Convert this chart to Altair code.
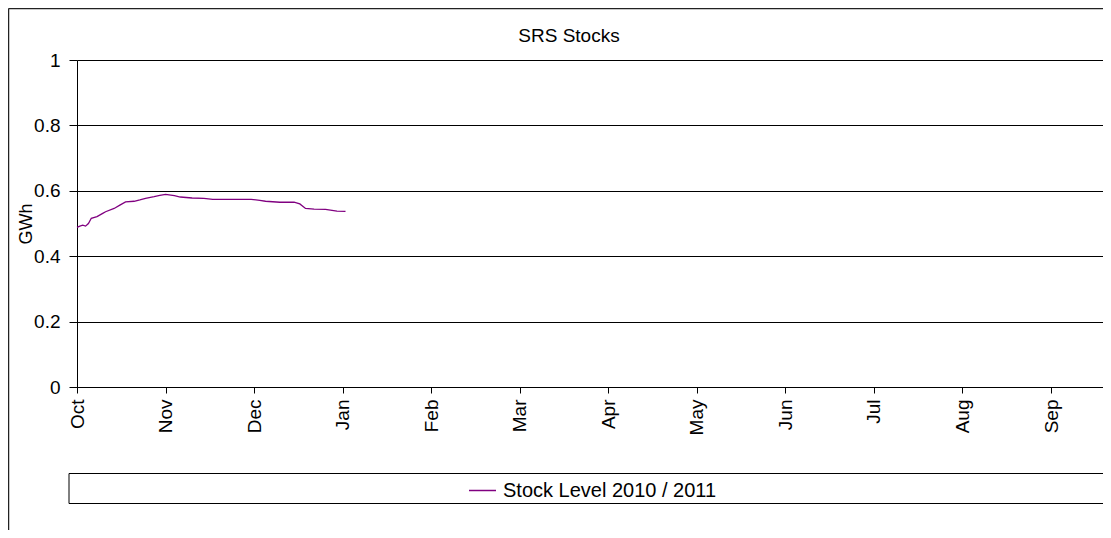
import altair as alt
import pandas as pd

# ---- data ----
months = ["Oct", "Nov", "Dec", "Jan", "Feb", "Mar", "Apr", "May", "Jun", "Jul", "Aug", "Sep"]
dates = [
    "2010-10-01", "2010-10-02", "2010-10-03", "2010-10-04", "2010-10-05", "2010-10-06",
    "2010-10-08", "2010-10-10", "2010-10-11", "2010-10-14", "2010-10-16", "2010-10-18",
    "2010-10-21", "2010-10-23", "2010-10-25", "2010-10-28", "2010-10-30", "2010-11-01",
    "2010-11-04", "2010-11-06", "2010-11-10", "2010-11-14", "2010-11-17", "2010-11-30",
    "2010-12-03", "2010-12-05", "2010-12-10", "2010-12-15", "2010-12-17", "2010-12-19",
    "2010-12-22", "2010-12-26", "2010-12-30", "2011-01-02",
]
values = [
    0.488, 0.492, 0.495, 0.492, 0.500, 0.516,
    0.521, 0.531, 0.536, 0.546, 0.556, 0.566,
    0.568, 0.572, 0.577, 0.582, 0.586, 0.589,
    0.585, 0.581, 0.578, 0.577, 0.574, 0.574,
    0.571, 0.568, 0.565, 0.565, 0.560, 0.546,
    0.544, 0.543, 0.538, 0.537,
]
series_name = "Stock Level 2010 / 2011"
chart_title = "SRS Stocks"
y_ticks = [0, 0.2, 0.4, 0.6, 0.8, 1]


def month_pos(d):
    ts = pd.Timestamp(d)
    idx = (ts.year - 2010) * 12 + ts.month - 10
    return idx + (ts.day - 1) / ts.days_in_month


df = pd.DataFrame({"date": dates, "value": values, "series": series_name})
df["pos"] = [month_pos(d) for d in dates]

FONT = "Liberation Sans"
W, H = 1026, 327
PX_PER_MONTH = 88.55
xmax = W / PX_PER_MONTH
label_expr = "[" + ",".join(f"'{m}'" for m in months) + "][datum.value]"

line = alt.Chart(df).mark_line(strokeWidth=1.3).encode(
    x=alt.X(
        "pos:Q",
        scale=alt.Scale(domain=[0, xmax], nice=False, zero=False),
        axis=alt.Axis(
            values=list(range(len(months))), labelExpr=label_expr, title=None, grid=False,
            labelAngle=-90, labelAlign="right", labelBaseline="middle",
            labelPadding=6, tickSize=6, labelFontSize=19,
        ),
    ),
    y=alt.Y(
        "value:Q",
        scale=alt.Scale(domain=[0, 1], nice=False),
        axis=alt.Axis(
            values=y_ticks, format=".1~f", title="GWh", grid=True, tickSize=8,
            labelPadding=9, labelFontSize=19,
            titleX=-46, titleY=H / 2, titleAngle=-90, titleBaseline="alphabetic",
            titleAlign="center", titleFontSize=18, titleFontWeight="normal",
        ),
    ),
    color=alt.Color(
        "series:N",
        scale=alt.Scale(range=["#800080"]),
        legend=alt.Legend(
            title=None, orient="none", legendX=391, legendY=416,
            symbolType="stroke", symbolSize=729, symbolStrokeWidth=1.5,
            labelFontSize=20, labelOffset=6, labelFont=FONT, labelColor="black",
            labelLimit=0,
        ),
    ),
)

deco = alt.Data(values=[{"k": 1}])
top_border = alt.Chart(deco).mark_rule(color="#222222", strokeWidth=1.5).encode(
    x=alt.value(-68.5), x2=alt.value(W + 50), y=alt.value(-51.5)
)
left_border = alt.Chart(deco).mark_rule(color="#222222", strokeWidth=1.5).encode(
    x=alt.value(-68.5), y=alt.value(-51.5), y2=alt.value(H + 150)
)
legend_box = alt.Chart(deco).mark_rect(fill="transparent", stroke="black", strokeWidth=1).encode(
    x=alt.value(-8), x2=alt.value(W + 40), y=alt.value(413.5), y2=alt.value(443.5)
)
title_text = alt.Chart(deco).mark_text(
    text=chart_title, fontSize=19, font=FONT, color="black", align="center", baseline="alphabetic"
).encode(x=alt.value(492), y=alt.value(-18))

chart = (
    alt.layer(top_border, left_border, legend_box, title_text, line)
    .properties(
        width=W, height=H,
        autosize=alt.AutoSizeParams(type="none"),
        padding={"left": 69, "top": 52, "right": 0, "bottom": 143},
    )
    .configure(font=FONT)
    .configure_view(stroke=None)
    .configure_axis(
        domainColor="black", tickColor="black", gridColor="black", gridWidth=1,
        labelColor="black", titleColor="black", labelFont=FONT, titleFont=FONT,
        domainWidth=1, tickWidth=1,
    )
)

chart.save("out.html", embed_options={"renderer": "svg", "actions": False})
